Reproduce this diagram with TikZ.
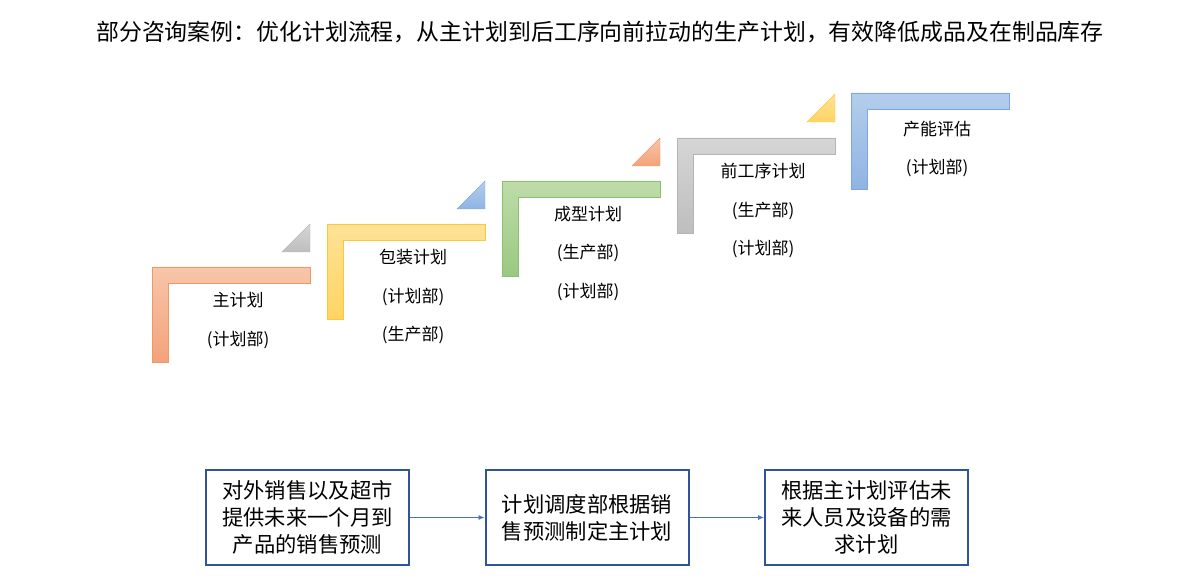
\documentclass[tikz,border=0pt]{standalone}
\usepackage{fontspec}
\newfontfamily\cjk{Noto Sans CJK SC}
\usetikzlibrary{arrows.meta,positioning}
\definecolor{boxblue}{HTML}{2F5597}
\definecolor{linkblue}{HTML}{4472C4}
\tikzset{
  orangestep/.style={top color={rgb,255:red,247;green,198;blue,170},bottom color={rgb,255:red,244;green,162;blue,122},draw={rgb,255:red,240;green,150;blue,105}},
  yellowstep/.style={top color={rgb,255:red,255;green,226;blue,150},bottom color={rgb,255:red,255;green,212;blue,100},draw={rgb,255:red,255;green,200;blue,60}},
  greenstep/.style={top color={rgb,255:red,190;green,220;blue,170},bottom color={rgb,255:red,155;green,200;blue,130},draw={rgb,255:red,140;green,192;blue,110}},
  graystep/.style={top color={rgb,255:red,214;green,214;blue,214},bottom color={rgb,255:red,190;green,190;blue,190},draw={rgb,255:red,180;green,180;blue,180}},
  bluestep/.style={top color={rgb,255:red,180;green,205;blue,235},bottom color={rgb,255:red,143;green,180;blue,227},draw={rgb,255:red,125;green,168;blue,222}},
  steplabel/.style={font=\cjk\fontsize{17}{38.5}\selectfont,align=center,inner sep=0pt},
  flowbox/.style={draw=boxblue,line width=2pt,minimum width=203pt,minimum height=95pt,
    align=center,inner sep=0pt,font=\cjk\fontsize{21.3}{27}\selectfont},
  flowarrow/.style={draw=linkblue,line width=0.8pt,-{Latex[length=6pt,width=5pt]}}
}
\begin{document}
\begin{tikzpicture}[x=1pt,y=-1pt]
\useasboundingbox (0,0) rectangle (1200,588);
\node[font=\cjk\fontsize{22.9}{26}\selectfont] (title) at (600,32) {部分咨询案例：优化计划流程，从主计划到后工序向前拉动的生产计划，有效降低成品及在制品库存};
% steps
\shade[orangestep] (152,267) -- ++(158,0) -- ++(0,16) -- ++(-142,0) -- ++(0,79) -- ++(-16,0) -- cycle;
\shade[graystep] (282,252) -- (310,252) -- (310,224) -- cycle;
\shade[yellowstep] (327,224) -- ++(158,0) -- ++(0,16) -- ++(-142,0) -- ++(0,79) -- ++(-16,0) -- cycle;
\shade[bluestep] (457,209) -- (485,209) -- (485,181) -- cycle;
\shade[greenstep] (502,181) -- ++(158,0) -- ++(0,16) -- ++(-142,0) -- ++(0,79) -- ++(-16,0) -- cycle;
\shade[orangestep] (632,166) -- (660,166) -- (660,138) -- cycle;
\shade[graystep] (677,138) -- ++(158,0) -- ++(0,16) -- ++(-142,0) -- ++(0,79) -- ++(-16,0) -- cycle;
\shade[yellowstep] (807,122) -- (835,122) -- (835,94) -- cycle;
\shade[bluestep] (851,93) -- ++(158,0) -- ++(0,16) -- ++(-142,0) -- ++(0,80) -- ++(-16,0) -- cycle;
\node[steplabel] (master) at (238,320.5) {主计划\\(计划部)};
\node[steplabel] (pack) at (413,296.5) {包装计划\\(计划部)\\(生产部)};
\node[steplabel] (mold) at (588,253.5) {成型计划\\(生产部)\\(计划部)};
\node[steplabel] (front) at (763,210.5) {前工序计划\\(生产部)\\(计划部)};
\node[steplabel] (capa) at (937,149) {产能评估\\(计划部)};
% flow
\node[flowbox] (sales) at (307.5,517.5) {对外销售以及超市\\提供未来一个月到\\产品的销售预测};
\node[flowbox] (plan) at (587,517.5) {计划调度部根据销\\售预测制定主计划};
\node[flowbox] (need) at (866.5,517.5) {根据主计划评估未\\来人员及设备的需\\求计划};
\draw[flowarrow] (sales) -- (plan);
\draw[flowarrow] (plan) -- (need);
\end{tikzpicture}
\end{document}
